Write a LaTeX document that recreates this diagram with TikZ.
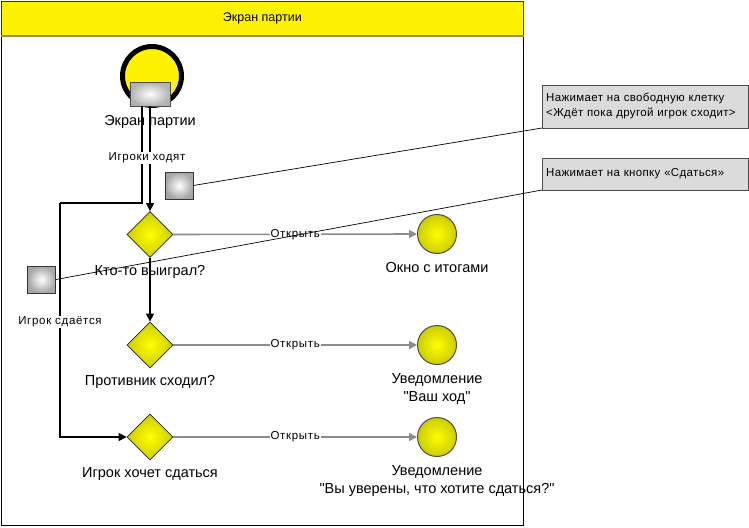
\documentclass[tikz,border=0pt]{standalone}
\usepackage{fontspec}
\setmainfont{Liberation Sans}
\usetikzlibrary{shapes.geometric,arrows.meta}
\newcommand\dqm{\XeTeXglyph\XeTeXcharglyph"22\relax}
\begin{document}
\begin{tikzpicture}[x=1pt,y=-1pt,
  lbl/.style={font=\fontsize{14.5}{18}\selectfont, align=center, inner sep=1pt},
  small/.style={font=\fontsize{11.5}{13}\selectfont\addfontfeatures{LetterSpace=6}, inner sep=1pt},
  flow/.style={black, line width=1.4pt, -{Triangle[length=8pt,width=8pt]}},
  open/.style={draw=gray!90, line width=1.6pt, -{Triangle[length=8pt,width=8pt]}},
  gate/.style={diamond, draw=black!85, line width=0.8pt, inner sep=0pt, minimum width=46pt, minimum height=46pt, inner color=yellow, outer color=yellow!80!black},
  endev/.style={circle, draw=black!70, line width=1pt, inner sep=0pt, minimum size=39pt, inner color=yellow, outer color=yellow!80!black},
  sq/.style={draw=black!80, line width=0.8pt, inner sep=0pt, minimum width=28pt, minimum height=27pt, inner color=white, outer color=black!35},
  note/.style={draw=black!70, fill=black!14, align=left, text width=198pt, font=\fontsize{11.5}{15}\selectfont\addfontfeatures{LetterSpace=3}, inner sep=4pt, anchor=south west}
]
\useasboundingbox (0,0) rectangle (749,527);
% frame and header
\draw[black, line width=0.8pt] (1,1) rectangle (523,525);
\node[draw=black!80, fill=yellow, minimum width=522pt, minimum height=34pt, anchor=north west, inner sep=0pt, line width=0.8pt, font=\fontsize{12.5}{14}\selectfont] (hdr) at (1,1) {Экран партии};
\draw[yellow!50!black, line width=1.8pt] (hdr.south west) -- (hdr.south east);
% start event
\node[circle, draw=black, line width=5pt, fill=yellow, minimum size=59pt, inner sep=0pt] (start) at (152,76) {};
\node[draw=black!70, line width=0.8pt, minimum width=40pt, minimum height=24pt, inner sep=0pt, inner color=white, outer color=black!30] (sr) at (150,94) {};
\node[lbl] (startl) at (150,122) {Экран партии};
% gateways
\node[gate] (d1) at (150,234.5) {};
\node[gate] (d2) at (150,345) {};
\node[gate] (d3) at (150,437) {};
\node[lbl] (d1l) at (150,272) {Кто-то выиграл?};
\node[lbl] (d2l) at (150,382) {Противник сходил?};
\node[lbl] (d3l) at (150,474) {Игрок хочет сдаться};
% end events
\node[endev] (e1) at (437,234) {};
\node[endev] (e2) at (437,345) {};
\node[endev] (e3) at (437,437) {};
\node[lbl] (e1l) at (437,268) {Окно с итогами};
\node[lbl] (e2l) at (437,389) {Уведомление\\\dqm Ваш ход\dqm};
\node[lbl] (e3l) at (437,481) {Уведомление\\\dqm Вы уверены, что хотите сдаться?\dqm};
% flows
\coordinate (turn) at (60,203);
\draw[flow] (sr.south) -- (d1.north);
\draw[black, line width=1.4pt] ([xshift=-8pt]sr.south) |- (turn);
\draw[flow] (turn) |- (d3.west);
\node[small, fill=white] (l1) at (147,158) {Игроки ходят};
\node[small, fill=white] (l2) at (60,322) {Игрок сдаётся};
\draw[flow] (d1.south) -- (d2.north);
\draw[open] (d1.east) -- node[small, fill=white, text=black] {Открыть} (e1.west);
\draw[open] (d2.east) -- node[small, fill=white, text=black] {Открыть} (e2.west);
\draw[open] (d3.east) -- node[small, fill=white, text=black] {Открыть} (e3.west);
% annotations
\node[sq] (s1) at (179,185.5) {};
\node[sq] (s2) at (41.5,279.5) {};
\node[note, minimum height=43pt] (n1) at (542,128) {Нажимает на свободную клетку\\<Ждёт пока другой игрок сходит>};
\node[note, minimum height=32pt] (n2) at (542,190) {Нажимает на кнопку «Сдаться»};
\draw[black, line width=0.7pt] (s1.east) -- (n1.south west);
\draw[black, line width=0.7pt] (s2.east) -- (n2.south west);
\end{tikzpicture}
\end{document}
